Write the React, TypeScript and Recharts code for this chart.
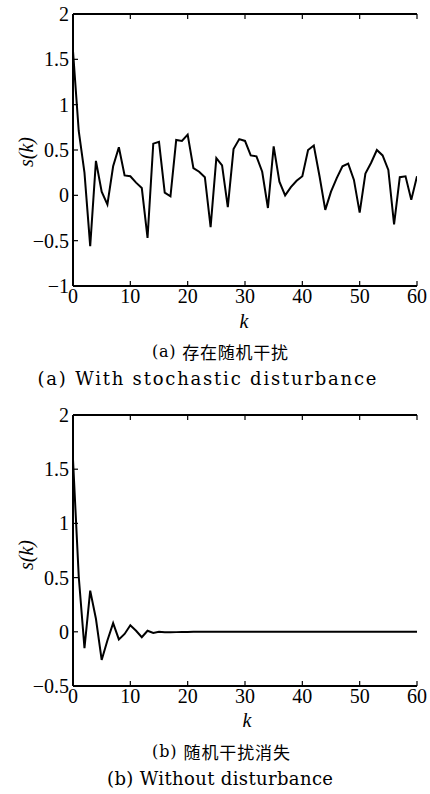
import React from 'react';
import { LineChart, Line, XAxis, YAxis } from 'recharts';

const sWithDisturbance = [
  1.59, 0.71, 0.25, -0.56, 0.38, 0.04, -0.10, 0.32, 0.53, 0.22,
  0.21, 0.14, 0.08, -0.47, 0.57, 0.59, 0.03, -0.01, 0.61, 0.60,
  0.67, 0.30, 0.26, 0.20, -0.35, 0.41, 0.33, -0.13, 0.51, 0.62,
  0.60, 0.44, 0.43, 0.26, -0.14, 0.54, 0.15, 0.00, 0.09, 0.16,
  0.21, 0.50, 0.55, 0.21, -0.16, 0.04, 0.19, 0.32, 0.35, 0.17,
  -0.19, 0.24, 0.36, 0.50, 0.44, 0.28, -0.32, 0.20, 0.21, -0.05,
  0.21,
];

const sWithoutDisturbance = [
  1.59, 0.51, -0.15, 0.38, 0.12, -0.26, -0.08, 0.08, -0.07, -0.02,
  0.06, 0.01, -0.05, 0.01, -0.01, 0.00, -0.005, -0.004, -0.003, -0.002,
  -0.001, 0.0, 0.0, 0.0, 0.0, 0.0, 0.0, 0.0, 0.0, 0.0,
  0.0, 0.0, 0.0, 0.0, 0.0, 0.0, 0.0, 0.0, 0.0, 0.0,
  0.0, 0.0, 0.0, 0.0, 0.0, 0.0, 0.0, 0.0, 0.0, 0.0,
  0.0, 0.0, 0.0, 0.0, 0.0, 0.0, 0.0, 0.0, 0.0, 0.0,
  0.0,
];

const xTicks = [0, 10, 20, 30, 40, 50, 60];
const yTicksA = [-1, -0.5, 0, 0.5, 1, 1.5, 2];
const yTicksB = [-0.5, 0, 0.5, 1, 1.5, 2];

const captionA_zh = '存在随机干扰';
const captionA_en = '(a) With stochastic disturbance';
const captionB_zh = '随机干扰消失';
const captionB_en = '(b) Without disturbance';

const toRows = (vals: number[]) => vals.map((s, k) => ({ k, s }));

const TICK_FONT = '"Liberation Serif", "Times New Roman", serif';
const TICK_SIZE = 20;
const TL = 5;

const fmt = (v: number) => (v < 0 ? '\u2212' + Math.abs(v) : String(v));

const BottomTick = (props: any) => {
  const { x, y, payload } = props;
  return (
    <g>
      <line x1={x} x2={x} y1={y} y2={y - TL} stroke="#000" strokeWidth={1.2} />
      <text x={x} y={y + 3} dy="0.71em" textAnchor="middle" style={{ fontFamily: TICK_FONT, fontSize: TICK_SIZE }} fill="#000">
        {fmt(payload.value)}
      </text>
    </g>
  );
};

const LeftTick = (props: any) => {
  const { x, y, payload } = props;
  return (
    <g>
      <line x1={x} x2={x + TL} y1={y} y2={y} stroke="#000" strokeWidth={1.2} />
      <text x={x - 4} y={y} dy="0.35em" textAnchor="end" style={{ fontFamily: TICK_FONT, fontSize: TICK_SIZE }} fill="#000">
        {fmt(payload.value)}
      </text>
    </g>
  );
};

const TopTick = (props: any) => {
  const { x, y } = props;
  return <line x1={x} x2={x} y1={y} y2={y + TL} stroke="#000" strokeWidth={1.2} />;
};

const RightTick = (props: any) => {
  const { x, y } = props;
  return <line x1={x} x2={x - TL} y1={y} y2={y} stroke="#000" strokeWidth={1.2} />;
};

const Panel = ({ data, yDomain, yTicks, top, plotTop }: { data: number[]; yDomain: [number, number]; yTicks: number[]; top: number; plotTop: number }) => (
  <div style={{ position: 'absolute', left: 0, top }}>
    <LineChart width={430} height={330} data={toRows(data)} margin={{ top: 0, right: 13, bottom: 0, left: 0 }}>
      <XAxis
        xAxisId="b"
        dataKey="k"
        type="number"
        domain={[0, 60]}
        ticks={xTicks}
        allowDataOverflow
        orientation="bottom"
        height={44}
        tickSize={0}
        tickMargin={0}
        tick={<BottomTick />}
        axisLine={{ stroke: '#000', strokeWidth: 2 }}
        interval={0}
      />
      <XAxis
        xAxisId="t"
        dataKey="k"
        type="number"
        domain={[0, 60]}
        ticks={xTicks}
        allowDataOverflow
        orientation="top"
        height={plotTop}
        tickSize={0}
        tickMargin={0}
        tick={<TopTick />}
        axisLine={{ stroke: '#000', strokeWidth: 2 }}
        interval={0}
      />
      <YAxis
        yAxisId="l"
        type="number"
        domain={yDomain}
        ticks={yTicks}
        allowDataOverflow
        orientation="left"
        width={73}
        tickSize={0}
        tickMargin={0}
        tick={<LeftTick />}
        axisLine={{ stroke: '#000', strokeWidth: 2 }}
        interval={0}
      />
      <YAxis
        yAxisId="r"
        type="number"
        domain={yDomain}
        ticks={yTicks}
        allowDataOverflow
        orientation="right"
        width={0}
        tickSize={0}
        tickMargin={0}
        tick={<RightTick />}
        axisLine={{ stroke: '#000', strokeWidth: 2 }}
        interval={0}
      />
      <Line
        xAxisId="b"
        yAxisId="l"
        type="linear"
        dataKey="s"
        stroke="#000"
        strokeWidth={2}
        dot={false}
        isAnimationActive={false}
      />
    </LineChart>
  </div>
);

const SERIF = '"DejaVu Serif", "Liberation Serif", serif';
const CJK = '"Noto Sans CJK SC", sans-serif';

export default function App() {
  return (
    <div style={{ position: 'absolute', left: 0, top: 0, width: 430, height: 794, background: '#fff' }}>
      <Panel data={sWithDisturbance} yDomain={[-1, 2]} yTicks={yTicksA} top={0} plotTop={14} />
      <Panel data={sWithoutDisturbance} yDomain={[-0.5, 2]} yTicks={yTicksB} top={400} plotTop={15} />
      <svg width={430} height={794} style={{ position: 'absolute', left: 0, top: 0, pointerEvents: 'none' }}>
        <text x={26} y={152} transform="rotate(-90 26 152)" textAnchor="middle" dominantBaseline="central" style={{ fontFamily: TICK_FONT, fontStyle: 'italic', fontSize: 20 }} fill="#000">s(k)</text>
        <text x={244} y={321} textAnchor="middle" dominantBaseline="central" style={{ fontFamily: TICK_FONT, fontStyle: 'italic', fontSize: 20 }} fill="#000">k</text>
        <text x={220} y={351} textAnchor="middle" dominantBaseline="central" textLength={136} lengthAdjust="spacing" fill="#000">
          <tspan style={{ fontFamily: SERIF, fontSize: 16 }}>(a) </tspan>
          <tspan style={{ fontFamily: CJK, fontSize: 17 }}>{captionA_zh}</tspan>
        </text>
        <text x={207} y={378} textAnchor="middle" dominantBaseline="central" textLength={339} lengthAdjust="spacing" style={{ fontFamily: SERIF, fontSize: 18 }} fill="#000">{captionA_en}</text>

        <text x={26} y={555} transform="rotate(-90 26 555)" textAnchor="middle" dominantBaseline="central" style={{ fontFamily: TICK_FONT, fontStyle: 'italic', fontSize: 20 }} fill="#000">s(k)</text>
        <text x={247} y={720} textAnchor="middle" dominantBaseline="central" style={{ fontFamily: TICK_FONT, fontStyle: 'italic', fontSize: 20 }} fill="#000">k</text>
        <text x={221} y={751} textAnchor="middle" dominantBaseline="central" textLength={138} lengthAdjust="spacing" fill="#000">
          <tspan style={{ fontFamily: SERIF, fontSize: 16 }}>(b) </tspan>
          <tspan style={{ fontFamily: CJK, fontSize: 17 }}>{captionB_zh}</tspan>
        </text>
        <text x={220} y={778} textAnchor="middle" dominantBaseline="central" textLength={226} lengthAdjust="spacing" style={{ fontFamily: SERIF, fontSize: 18 }} fill="#000">{captionB_en}</text>
      </svg>
    </div>
  );
}
